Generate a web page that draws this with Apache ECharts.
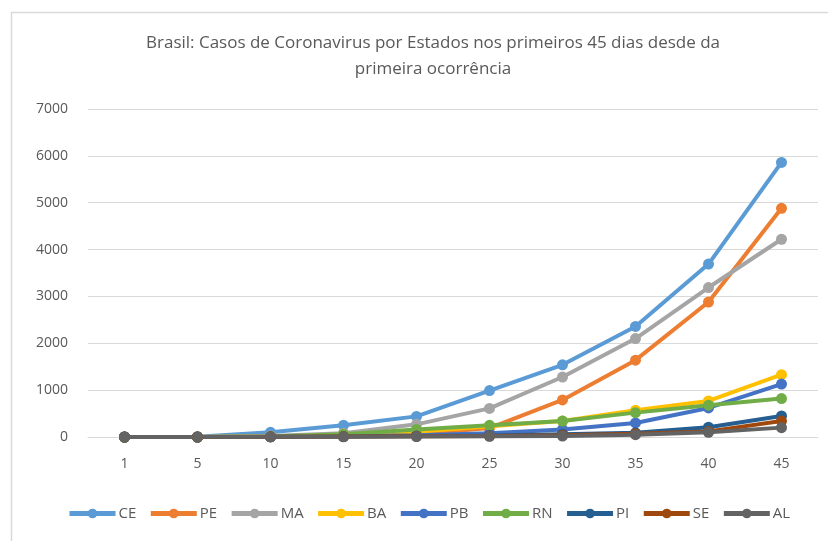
<!DOCTYPE html>
<html>
<head>
<meta charset="utf-8">
<script src="https://cdn.jsdelivr.net/npm/echarts@6/dist/echarts.min.js"></script>
<style>
  html, body { margin: 0; padding: 0; background: #fff; }
  #chart { width: 828px; height: 541px; }
</style>
</head>
<body>
<div id="chart"></div>
<script>
var dias = ['1', '5', '10', '15', '20', '25', '30', '35', '40', '45'];
var estados = ['CE', 'PE', 'MA', 'BA', 'PB', 'RN', 'PI', 'SE', 'AL'];
var cores = ['#5B9BD5', '#ED7D31', '#A5A5A5', '#FFC000', '#4472C4', '#70AD47', '#255E91', '#9E480E', '#636363'];

var CE = [0, 3, 100, 250, 440, 990, 1540, 2360, 3690, 5860];
var PE = [0, 0, 10, 20, 60, 190, 790, 1640, 2880, 4880];
var MA = [0, 0, 20, 80, 270, 610, 1280, 2100, 3190, 4220];
var BA = [0, 0, 10, 40, 110, 230, 340, 570, 770, 1330];
var PB = [0, 0, 5, 20, 40, 80, 160, 300, 620, 1130];
var RN = [0, 0, 10, 60, 160, 250, 340, 520, 680, 820];
var PI = [0, 0, 3, 10, 20, 30, 60, 90, 210, 450];
var SE = [0, 0, 3, 10, 15, 20, 40, 70, 120, 340];
var AL = [0, 0, 3, 5, 10, 15, 20, 50, 100, 200];

var valores = [CE, PE, MA, BA, PB, RN, PI, SE, AL];

var fonte = '"Open Sans", "Noto Sans", sans-serif';

var series = [];
for (var i = 0; i < estados.length; i++) {
    series.push({
        name: estados[i],
        type: 'line',
        data: valores[i],
        symbol: 'circle',
        symbolSize: 11,
        lineStyle: { width: 4, color: cores[i] },
        itemStyle: { color: cores[i] },
        animation: false
    });
}

var myChart = echarts.init(document.getElementById('chart'));
var option = {
    backgroundColor: '#fff',
    color: cores,
    title: {
        text: 'Brasil: Casos de Coronavirus por Estados nos primeiros 45 dias desde da\nprimeira ocorrência',
        left: 428,
        textAlign: 'center',
        top: 25,
        textStyle: {
            fontFamily: fonte,
            fontSize: 17,
            fontWeight: 'normal',
            color: '#595959',
            lineHeight: 26
        }
    },
    graphic: [{
        type: 'rect',
        shape: { x: 11.5, y: 12.5, width: 900, height: 600 },
        style: { fill: 'none', stroke: '#d9d9d9', lineWidth: 1.5 },
        silent: true
    }],
    legend: {
        data: estados,
        top: 501,
        left: 62,
        itemWidth: 46,
        itemHeight: 12,
        itemGap: 12,
        lineStyle: { width: 5 },
        textStyle: { fontFamily: fonte, fontSize: 15, color: '#595959', padding: [0, 0, 0, -2] }
    },
    grid: { left: 88, right: 10, top: 109, bottom: 104 },
    xAxis: {
        type: 'category',
        data: dias,
        boundaryGap: true,
        axisLine: { lineStyle: { color: '#d9d9d9', width: 1 } },
        axisTick: { show: false },
        axisLabel: { fontFamily: fonte, fontSize: 14, color: '#595959', margin: 20 }
    },
    yAxis: {
        type: 'value',
        min: 0,
        max: 7000,
        interval: 1000,
        axisLine: { show: false },
        axisTick: { show: false },
        splitLine: { lineStyle: { color: '#d9d9d9', width: 1 } },
        axisLabel: {
            fontFamily: fonte, fontSize: 14, color: '#595959', margin: 20,
            formatter: function (v) { return String(v); }
        }
    },
    series: series
};
myChart.setOption(option);
</script>
</body>
</html>
